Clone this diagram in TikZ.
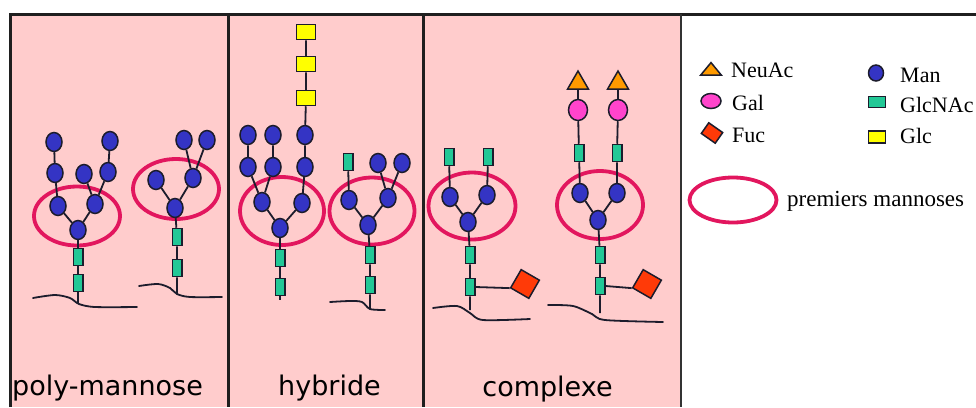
\documentclass[tikz,border=0pt]{standalone}
\usepackage{fontspec}
\setmainfont{Liberation Serif}
\newfontfamily\handfont{DejaVu Sans}
\usepackage{tikz}
\usetikzlibrary{shapes.geometric}
\definecolor{GlyPink}{HTML}{FFCCCC}
\definecolor{GlyInk}{HTML}{1C1C2C}
\definecolor{GlyMan}{HTML}{3434C4}
\definecolor{GlyGlcNAc}{HTML}{22C896}
\definecolor{GlyGlc}{HTML}{FFFF00}
\definecolor{GlyGal}{HTML}{FF44CC}
\definecolor{GlyNeuAc}{HTML}{FF9A00}
\definecolor{GlyFuc}{HTML}{FF3A08}
\definecolor{GlyRing}{HTML}{E2165E}
\tikzset{
  residue/.style={
    draw=GlyInk,
    line width=1.5pt,
    inner sep=0pt
  },
  mannose/.style={residue,ellipse,fill=GlyMan,minimum width=16pt,minimum height=19pt},
  glcnac/.style={residue,rectangle,fill=GlyGlcNAc,minimum width=9.5pt,minimum height=17pt},
  glucose/.style={residue,rectangle,fill=GlyGlc,minimum width=19pt,minimum height=15pt},
  galactose/.style={residue,ellipse,fill=GlyGal,minimum width=19pt,minimum height=21pt},
  neuac/.style={residue,regular polygon,regular polygon sides=3,fill=GlyNeuAc,minimum size=24pt},
  fucose/.style={residue,rectangle,fill=GlyFuc,minimum size=21pt,rotate=-30},
  firstring/.style={ellipse,draw=GlyRing,line width=3.8pt,inner sep=0pt},
  linkage/.style={draw=GlyInk,line width=1.8pt},
  protein/.style={draw=GlyInk,line width=1.8pt,line cap=round},
  panelrule/.style={draw=black!88,line width=3pt},
  legendrule/.style={draw=black!80,line width=1.3pt},
  paneltitle/.style={font=\handfont\fontsize{27}{30}\selectfont,anchor=base,inner sep=0pt},
  legendtext/.style={font=\fontsize{22}{24}\selectfont,anchor=base west,inner sep=0pt}
}

\begin{document}
\begin{tikzpicture}[x=1pt,y=-1pt]
  \useasboundingbox (0,0) rectangle (976,407);
  % Pink panels and their frame.
  \fill[GlyPink] (10,14) rectangle (681,407);
  \draw[panelrule] (10.5,407) -- (10.5,14.2) -- (976,14.2);
  \draw[panelrule] (228.5,14) -- (228.5,407);
  \draw[panelrule] (423.5,14) -- (423.5,407);
  \draw[legendrule] (681,14) -- (681,407);

  % Rings round the first mannoses.
  \node[firstring,minimum width=86pt,minimum height=59pt] (ra) at (77,216)  {};
  \node[firstring,minimum width=86pt,minimum height=60pt] (rb) at (176,189) {};
  \node[firstring,minimum width=84pt,minimum height=68pt] (rc) at (282,211) {};
  \node[firstring,minimum width=85pt,minimum height=67pt] (rd) at (372,211) {};
  \node[firstring,minimum width=87pt,minimum height=67pt] (re) at (472,206) {};
  \node[firstring,minimum width=86pt,minimum height=68pt] (rf) at (600,205) {};

  % Poly-mannose, first tree.
  \node[mannose] (a0) at (78,230) {};
  \node[mannose] (a1) at (58,206) {};
  \node[mannose] (a2) at (95,204) {};
  \node[mannose] (a3) at (55,173) {};
  \node[mannose] (a4) at (54,142) {};
  \node[mannose] (a5) at (84,174) {};
  \node[mannose] (a6) at (108,172) {};
  \node[mannose] (a7) at (110,141) {};
  \node[glcnac]  (a8) at (78,257) {};
  \node[glcnac]  (a9) at (78,283) {};
  \coordinate    (a10) at (78,303);
  \draw[linkage] (a4) -- (a3) -- (a1) -- (a0) -- (a2) -- (a6) -- (a7);
  \draw[linkage] (a2) -- (a5);
  \draw[linkage] (a0) -- (a8) -- (a9) -- (a10);
  \draw[protein] plot[smooth] coordinates {(33,298) (55,295) (70,298) (79,304) (95,307) (137,307)};

  % Poly-mannose, second tree.
  \node[mannose] (b0) at (175,208) {};
  \node[mannose] (b1) at (156,180) {};
  \node[mannose] (b2) at (193,178) {};
  \node[mannose] (b3) at (184,140) {};
  \node[mannose] (b4) at (207,140) {};
  \node[glcnac]  (b5) at (177,237) {};
  \node[glcnac]  (b6) at (177,268) {};
  \coordinate    (b7) at (177,294);
  \draw[linkage] (b1) -- (b0) -- (b2) -- (b3);
  \draw[linkage] (b2) -- (b4);
  \draw[linkage] (b0) -- (b5) -- (b6) -- (b7);
  \draw[protein] plot[smooth] coordinates {(139,286) (158,284) (170,288) (177,294) (190,297) (222,297)};

  % Hybrid, first tree with the glucose chain.
  \node[mannose] (c0) at (280,228) {};
  \node[mannose] (c1) at (262,202) {};
  \node[mannose] (c2) at (302,203) {};
  \node[mannose] (c3) at (248,167) {};
  \node[mannose] (c4) at (248,135) {};
  \node[mannose] (c5) at (273,167) {};
  \node[mannose] (c6) at (273,135) {};
  \node[mannose] (c7) at (305,167) {};
  \node[mannose] (c8) at (305,135) {};
  \node[glucose] (c9)  at (306,98) {};
  \node[glucose] (c10) at (306,64) {};
  \node[glucose] (c11) at (306,32) {};
  \node[glcnac]  (c12) at (280,258) {};
  \node[glcnac]  (c13) at (280,287) {};
  \coordinate    (c14) at (280,300);
  \draw[linkage] (c4) -- (c3) -- (c1) -- (c0) -- (c2) -- (c7) -- (c8) -- (c9) -- (c10) -- (c11);
  \draw[linkage] (c6) -- (c5) -- (c1);
  \draw[linkage] (c0) -- (c12) -- (c13) -- (c14);

  % Hybrid, second tree.
  \node[mannose] (d0) at (368,225) {};
  \node[mannose] (d1) at (349,200) {};
  \node[mannose] (d2) at (388,198) {};
  \node[mannose] (d3) at (378,163) {};
  \node[mannose] (d4) at (402,163) {};
  \node[glcnac]  (d5) at (348,162) {};
  \node[glcnac]  (d6) at (370,255) {};
  \node[glcnac]  (d7) at (370,285) {};
  \coordinate    (d8) at (370,309);
  \draw[linkage] (d5) -- (d1) -- (d0) -- (d2) -- (d3);
  \draw[linkage] (d2) -- (d4);
  \draw[linkage] (d0) -- (d6) -- (d7) -- (d8);
  \draw[protein] plot[smooth] coordinates {(330,302) (350,301) (362,302) (370,309) (385,310)};

  % Complex, first tree.
  \node[mannose] (e0) at (468,222) {};
  \node[mannose] (e1) at (450,197) {};
  \node[mannose] (e2) at (487,195) {};
  \node[glcnac]  (e3) at (449,157) {};
  \node[glcnac]  (e4) at (488,157) {};
  \node[glcnac]  (e5) at (470,255) {};
  \node[glcnac]  (e6) at (470,287) {};
  \node[fucose]  (e7) at (525,284) {};
  \coordinate    (e8) at (470,310);
  \draw[linkage] (e3) -- (e1) -- (e0) -- (e2) -- (e4);
  \draw[linkage] (e0) -- (e5) -- (e6) -- (e8);
  \draw[linkage] (e6.east) -- (e7.south west);
  \draw[protein] plot[smooth] coordinates {(433,308) (457,306) (470,313) (483,320) (530,319)};

  % Complex, second tree with sialic acids.
  \node[mannose]   (f0) at (598,220) {};
  \node[mannose]   (f1) at (580,193) {};
  \node[mannose]   (f2) at (617,193) {};
  \node[glcnac]    (f3) at (579,153) {};
  \node[glcnac]    (f4) at (617,153) {};
  \node[galactose] (f5) at (578,110) {};
  \node[galactose] (f6) at (618,110) {};
  \node[neuac]     (f7) at (578,83) {};
  \node[neuac]     (f8) at (618,83) {};
  \node[glcnac]    (f9) at (600,255) {};
  \node[glcnac]    (f10) at (600,286) {};
  \node[fucose]    (f11) at (647,284) {};
  \coordinate      (f12) at (600,313);
  \draw[linkage] (f7) -- (f5) -- (f3) -- (f1) -- (f0) -- (f2) -- (f4) -- (f6) -- (f8);
  \draw[linkage] (f0) -- (f9) -- (f10) -- (f12);
  \draw[linkage] (f10.east) -- (f11.south west);
  \draw[protein] plot[smooth] coordinates {(548,305) (573,306) (592,314) (605,320) (663,322)};

  % Panel titles.
  \node[paneltitle] (t1) at (107.5,395) {poly-mannose};
  \node[paneltitle] (t2) at (329.5,395) {hybride};
  \node[paneltitle] (t3) at (547.5,396) {complexe};

  % Legend.
  \node[neuac,yscale=.7]                                   (k1) at (711,71)  {};
  \node[galactose,minimum width=20pt,minimum height=15pt]  (k2) at (711,101) {};
  \node[fucose,minimum width=17pt,minimum height=13pt,rotate=-5] (k3) at (712,133) {};
  \node[mannose,minimum width=15pt,minimum height=16pt]    (k4) at (876,73)  {};
  \node[glcnac,minimum width=17pt,minimum height=11pt]     (k5) at (877,102) {};
  \node[glucose,minimum width=17pt,minimum height=12pt]    (k6) at (877,137) {};
  \node[legendtext] (k1t) at (731,77)  {NeuAc};
  \node[legendtext] (k2t) at (732,110) {Gal};
  \node[legendtext] (k3t) at (732,142) {Fuc};
  \node[legendtext] (k4t) at (900,82)  {Man};
  \node[legendtext] (k5t) at (900,112) {GlcNAc};
  \node[legendtext] (k6t) at (900,143) {Glc};
  \node[firstring,minimum width=87pt,minimum height=45pt] (k7) at (733,200) {};
  \node[legendtext,font=\fontsize{23}{25}\selectfont] (k7t) at (787,206) {premiers mannoses};
\end{tikzpicture}
\end{document}
